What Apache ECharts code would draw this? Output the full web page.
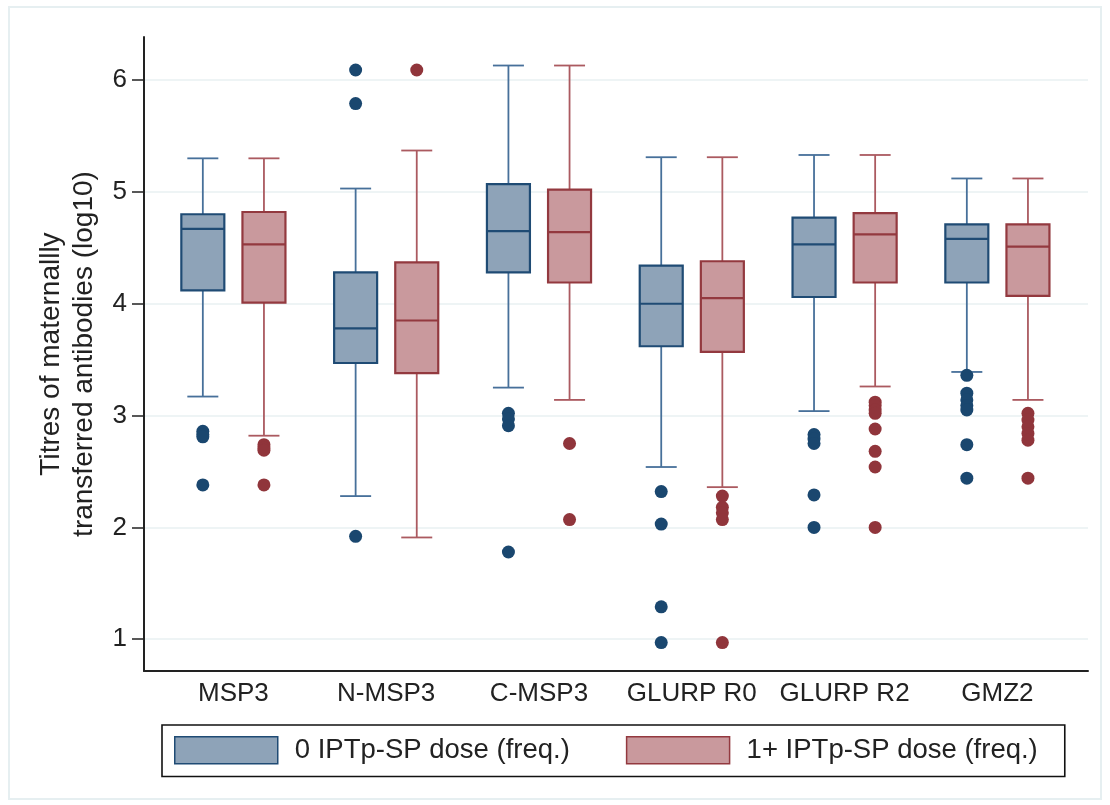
<!DOCTYPE html>
<html>
<head>
<meta charset="utf-8">
<title>Titres of maternally transferred antibodies by IPTp-SP dose</title>
<script src="https://cdn.jsdelivr.net/npm/echarts@6/dist/echarts.min.js"></script>
<style>
  html, body { margin: 0; padding: 0; background: #ffffff; }
  #chart { width: 1110px; height: 805px; }
</style>
</head>
<body>
<div id="chart"></div>
<script>
// Antigens shown along the x axis
const categories = ['MSP3', 'N-MSP3', 'C-MSP3', 'GLURP R0', 'GLURP R2', 'GMZ2'];
const yTicks = [1, 2, 3, 4, 5, 6];
const groupNames = ['0 IPTp-SP dose (freq.)', '1+ IPTp-SP dose (freq.)'];

// Box statistics per antigen: [lower whisker, Q1, median, Q3, upper whisker]
const boxesNoDose = [
  [3.17, 4.12, 4.67, 4.80, 5.30],
  [2.28, 3.47, 3.78, 4.28, 5.03],
  [3.25, 4.28, 4.65, 5.07, 6.13],
  [2.54, 3.62, 4.00, 4.34, 5.31],
  [3.04, 4.06, 4.53, 4.77, 5.33],
  [3.39, 4.19, 4.58, 4.71, 5.12]
];
const boxesDosed = [
  [2.82, 4.01, 4.53, 4.82, 5.30],
  [1.91, 3.38, 3.85, 4.37, 5.37],
  [3.14, 4.19, 4.64, 5.02, 6.13],
  [2.36, 3.57, 4.05, 4.38, 5.31],
  [3.26, 4.19, 4.62, 4.81, 5.33],
  [3.14, 4.07, 4.51, 4.71, 5.12]
];

// Outlying observations per antigen
const outliersNoDose = [
  [2.86, 2.83, 2.81, 2.38],
  [6.09, 5.79, 1.92],
  [3.02, 2.97, 2.91, 1.78],
  [2.32, 2.03, 1.29, 0.97],
  [2.83, 2.79, 2.75, 2.29, 2.00],
  [3.36, 3.20, 3.14, 3.09, 3.05, 2.74, 2.44]
];
const outliersDosed = [
  [2.74, 2.71, 2.69, 2.38],
  [6.09],
  [2.75, 2.07],
  [2.28, 2.18, 2.13, 2.07, 0.97],
  [3.12, 3.09, 3.05, 3.02, 2.88, 2.68, 2.54, 2.00],
  [3.02, 2.96, 2.90, 2.84, 2.78, 2.44]
];

// Styling
const FONT = '"Liberation Sans", Arial, sans-serif';
const TEXT = '#222222';
const BOX_W = 43;
const CAP_W = 31;
const OFFSET = 0.2; // half distance between the paired boxes, in category units
const palette = [
  { fill: '#8ea3b8', stroke: '#1f4b74', whisker: '#47709a', dot: '#1a476f' },
  { fill: '#c9999d', stroke: '#93393f', whisker: '#ab5a60', dot: '#90353b' }
];

function boxRows(stats, shift) {
  return stats.map((s, i) => [i + 1 + shift].concat(s));
}
function outlierRows(lists, shift) {
  const rows = [];
  lists.forEach((vals, i) => vals.forEach(v => rows.push([i + 1 + shift, v])));
  return rows;
}

function makeRenderer(colors) {
  return function (params, api) {
    const x = api.value(0);
    const lo = api.coord([x, api.value(1)]);
    const q1 = api.coord([x, api.value(2)]);
    const med = api.coord([x, api.value(3)]);
    const q3 = api.coord([x, api.value(4)]);
    const hi = api.coord([x, api.value(5)]);
    const cx = lo[0];
    const wStyle = { stroke: colors.whisker, lineWidth: 1.8 };
    return {
      type: 'group',
      children: [
        { type: 'line', shape: { x1: cx, y1: hi[1], x2: cx, y2: q3[1] }, style: wStyle },
        { type: 'line', shape: { x1: cx, y1: q1[1], x2: cx, y2: lo[1] }, style: wStyle },
        { type: 'line', shape: { x1: cx - CAP_W / 2, y1: hi[1], x2: cx + CAP_W / 2, y2: hi[1] }, style: wStyle },
        { type: 'line', shape: { x1: cx - CAP_W / 2, y1: lo[1], x2: cx + CAP_W / 2, y2: lo[1] }, style: wStyle },
        {
          type: 'rect',
          shape: { x: cx - BOX_W / 2, y: q3[1], width: BOX_W, height: q1[1] - q3[1] },
          style: { fill: colors.fill, stroke: colors.stroke, lineWidth: 2.2 }
        },
        {
          type: 'line',
          shape: { x1: cx - BOX_W / 2, y1: med[1], x2: cx + BOX_W / 2, y2: med[1] },
          style: { stroke: colors.stroke, lineWidth: 2.2 }
        }
      ]
    };
  };
}

const chart = echarts.init(document.getElementById('chart'), null, { renderer: 'canvas' });

const series = [];
[[boxesNoDose, outliersNoDose, -OFFSET], [boxesDosed, outliersDosed, OFFSET]].forEach((g, k) => {
  series.push({
    name: groupNames[k],
    type: 'custom',
    renderItem: makeRenderer(palette[k]),
    encode: { x: 0, y: [1, 2, 3, 4, 5] },
    itemStyle: { color: palette[k].fill },
    data: boxRows(g[0], g[2]),
    z: 3
  });
  series.push({
    name: groupNames[k],
    type: 'scatter',
    symbol: 'circle',
    symbolSize: 13,
    itemStyle: { color: palette[k].dot, opacity: 1 },
    data: outlierRows(g[1], g[2]),
    z: 4
  });
});

chart.setOption({
  backgroundColor: '#ffffff',
  animation: false,
  textStyle: { fontFamily: FONT, color: TEXT },
  graphic: [{
    type: 'rect',
    shape: { x: 9, y: 7, width: 1092, height: 792 },
    style: { fill: 'none', stroke: '#e6eff1', lineWidth: 2 },
    silent: true,
    z: -10
  }],
  grid: { left: 144, right: 22, top: 37, bottom: 134, containLabel: false, outerBoundsMode: 'none' },
  legend: {
    left: 162,
    top: 725,
    orient: 'horizontal',
    padding: [11, 27, 12, 12],
    itemGap: 56,
    itemWidth: 103,
    itemHeight: 27,
    borderColor: '#111111',
    borderWidth: 1.6,
    backgroundColor: '#ffffff',
    selectedMode: false,
    textStyle: { fontFamily: FONT, fontSize: 27.5, color: TEXT, padding: [0, 0, 0, 12] },
    data: [
      { name: groupNames[0], icon: 'rect', itemStyle: { color: palette[0].fill, borderColor: palette[0].stroke, borderWidth: 1.5 } },
      { name: groupNames[1], icon: 'rect', itemStyle: { color: palette[1].fill, borderColor: palette[1].stroke, borderWidth: 1.5 } }
    ]
  },
  xAxis: {
    type: 'value',
    min: 0.415,
    max: 6.593,
    axisLine: { show: true, onZero: false, lineStyle: { color: '#222222', width: 2 } },
    axisTick: { show: false },
    splitLine: { show: false },
    axisLabel: {
      customValues: categories.map((c, i) => i + 1),
      formatter: v => categories[Math.round(v) - 1] || '',
      fontFamily: FONT,
      fontSize: 26,
      color: TEXT,
      margin: 10
    }
  },
  yAxis: {
    type: 'value',
    min: 0.716,
    max: 6.385,
    name: 'Titres of maternallly\ntransferred antibodies (log10)',
    nameLocation: 'middle',
    nameGap: 43,
    nameTextStyle: { fontFamily: FONT, fontSize: 28, lineHeight: 33, color: TEXT },
    axisLine: { show: true, onZero: false, lineStyle: { color: '#222222', width: 2 } },
    axisTick: { show: true, customValues: yTicks, length: 12, lineStyle: { color: '#222222', width: 1.5 } },
    axisLabel: { customValues: yTicks, fontFamily: FONT, fontSize: 26, color: TEXT, margin: 17 },
    splitLine: { show: true, lineStyle: { color: '#e8f0f2', width: 1.5 } }
  },
  series: series
});
</script>
</body>
</html>
